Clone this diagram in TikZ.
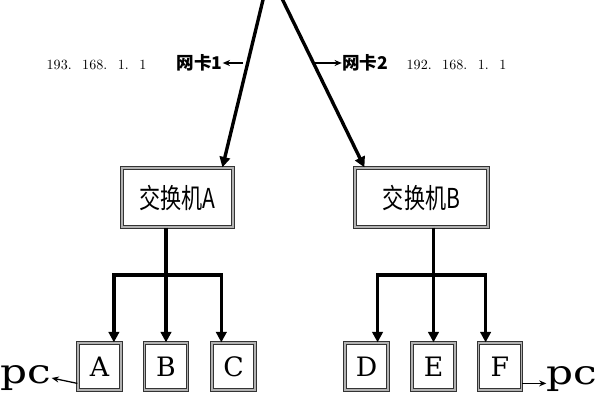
\documentclass[tikz,border=0pt]{standalone}
\usepackage{fontspec}
\newfontfamily\cjk{Noto Sans CJK SC}
\newfontfamily\serifc{DejaVu Serif}
\usetikzlibrary{arrows.meta,calc}

\begin{document}
\begin{tikzpicture}[x=0.025cm,y=-0.025cm,
  box/.style={draw=black!80,double=gray!60,double distance=0.8pt,line width=0.9pt,fill=white,inner sep=0pt},
  sw/.style={box,minimum width=2.775cm,minimum height=1.475cm,font=\cjk\fontsize{15}{18}\selectfont},
  pc/.style={box,minimum width=1.075cm,minimum height=1.175cm,font=\serifc\fontsize{19}{22}\selectfont},
  ln/.style={line width=2.4pt,-{Triangle[length=2.6mm,width=2.6mm]}},
  sm/.style={line width=0.9pt,-{Stealth[length=1.8mm,width=1.5mm]}},
  ip/.style={font=\fontsize{10}{12}\selectfont,inner sep=0pt},
  nk/.style={font=\cjk\bfseries\fontsize{12.5}{14}\selectfont,inner sep=0pt},
  lbl/.style={font=\serifc\fontsize{24}{28}\selectfont,inner sep=0pt,xscale=1.25}]
\clip (0,0) rectangle (600,400);
% switches and hosts
\node[sw] (swA) at (177.5,197.5) {\scalebox{1}[1.3]{交换机A}};
\node[sw,minimum width=3.325cm] (swB) at (421.5,197.5) {\scalebox{1}[1.3]{交换机B}};
\foreach \n/\x in {A/99.5,B/166,C/233.5,D/366.5,E/433.5,F/500}
  \node[pc] (pc\n) at (\x,366.5) {\n};
% two network cards
\coordinate (nic) at (269.5,-27);
\draw[ln] (nic) -- ($(swA.north)!0.8!(swA.north east)$);
\draw[ln] (nic) -- ($(swB.north)!0.85!(swB.north west)$);
\node[ip] (ipA) at (96.5,65) {193.\hspace{0.75em}168.\hspace{0.75em}1.\hspace{0.75em}1};
\node[ip] (ipB) at (456.5,65) {192.\hspace{0.75em}168.\hspace{0.75em}1.\hspace{0.75em}1};
\node[nk] (nk1) at (199.5,63) {网卡1};
\node[nk] (nk2) at (365,63) {网卡2};
\coordinate (c1) at (243,63);
\coordinate (c2) at (315,63);
\draw[sm] (c1) -- (nk1);
\draw[sm] (c2) -- (nk2);
% bus A
\coordinate (busA) at (166,275);
\coordinate (tA) at ($(pcA.north)!0.65!(pcA.north east)$);
\coordinate (tC) at ($(pcC.north)!0.55!(pcC.north west)$);
\draw[ln] (swA.south -| pcB) -- (pcB.north);
\draw[ln] (busA) -| (tA);
\draw[ln] (busA) -| (tC);
% bus B
\coordinate (busB) at (433.5,275);
\coordinate (tD) at ($(pcD.north)!0.5!(pcD.north east)$);
\coordinate (tF) at ($(pcF.north)!0.65!(pcF.north west)$);
\draw[ln] (swB.south -| pcE) -- (pcE.north);
\draw[ln] (busB) -| (tD);
\draw[ln] (busB) -| (tF);
% pc labels
\node[lbl] (pcL) at (26,378) {pc};
\node[lbl] (pcR) at (572,379) {pc};
\draw[sm] ($(pcA.west)!0.7!(pcA.south west)$) -- (pcL.east);
\coordinate (fR) at ($(pcF.east)!0.7!(pcF.south east)$);
\draw[sm] (fR) -- (fR -| pcR.west);
\end{tikzpicture}
\end{document}
